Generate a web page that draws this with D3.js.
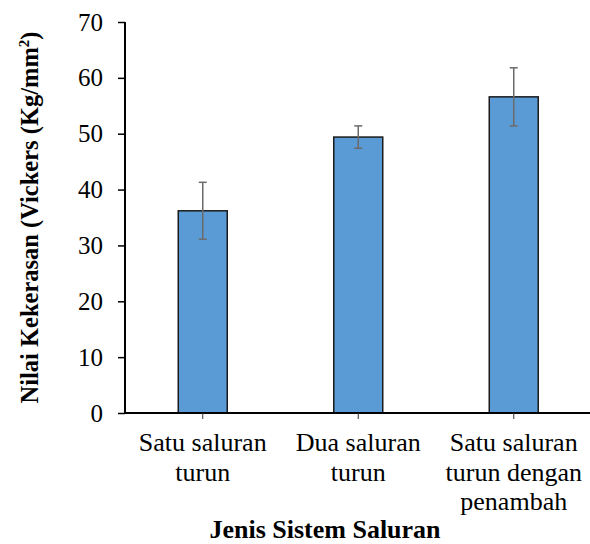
<html>
<head>
<script src="https://cdn.jsdelivr.net/npm/d3@7"></script>
<style>
  body { margin: 0; background: #fff; }
  svg text { font-family: "Times New Roman", "Liberation Serif", "DejaVu Serif", serif !important; fill: #000; }
</style>
</head>
<body>
<svg width="590" height="544"></svg>
<script>
// chart data
const categories = ["Satu saluran turun", "Dua saluran turun", "Satu saluran turun dengan penambah"];
const labelLines = [["Satu saluran", "turun"], ["Dua saluran", "turun"], ["Satu saluran", "turun dengan", "penambah"]];
const values = [36.2, 49.4, 56.6];
const errors = [5.1, 2.0, 5.2];
const yTicks = [0, 10, 20, 30, 40, 50, 60, 70];

const svg = d3.select("svg");
const plotLeft = 125, plotRight = 591.5, plotTop = 22, plotBottom = 413;

const x = d3.scaleBand().domain(categories).range([plotLeft, plotRight])
  .paddingInner(0.685).paddingOuter(0.3425);
const y = d3.scaleLinear().domain([0, 70]).range([plotBottom, plotTop]);

// bars
svg.selectAll("rect.bar").data(categories).enter().append("rect")
  .attr("x", d => x(d))
  .attr("y", (d, i) => y(values[i]))
  .attr("width", x.bandwidth())
  .attr("height", (d, i) => y(0) - y(values[i]))
  .style("fill", "#5b9bd5")
  .style("stroke", "#1a1a1a")
  .style("stroke-width", 1.5);

// error bars
const eb = svg.append("g").style("stroke", "#6b6b6b").style("stroke-width", 1.5);
categories.forEach((c, i) => {
  const cx = x(c) + x.bandwidth() / 2;
  const hi = y(values[i] + errors[i]), lo = y(values[i] - errors[i]);
  eb.append("line").attr("x1", cx).attr("x2", cx).attr("y1", hi).attr("y2", lo);
  eb.append("line").attr("x1", cx - 4).attr("x2", cx + 4).attr("y1", hi).attr("y2", hi);
  eb.append("line").attr("x1", cx - 4).attr("x2", cx + 4).attr("y1", lo).attr("y2", lo);
});

// y axis
const yAxis = svg.append("g").attr("transform", "translate(" + plotLeft + ",0)")
  .call(d3.axisLeft(y).tickValues(yTicks).tickSize(7).tickPadding(15));
yAxis.attr("font-family", null);
yAxis.select(".domain").attr("d", "M0," + plotTop + "V" + plotBottom).style("stroke", "#000").style("stroke-width", 2);
yAxis.selectAll(".tick line").style("stroke", "#000").style("stroke-width", 1.5);
yAxis.selectAll(".tick text").style("font-size", "25px");

// x axis
const xAxis = svg.append("g").attr("transform", "translate(0," + plotBottom + ")");
xAxis.append("line").attr("x1", plotLeft - 1).attr("x2", 590).attr("y1", 0).attr("y2", 0)
  .style("stroke", "#000").style("stroke-width", 2);
xAxis.selectAll("line.xt").data(categories).enter().append("line")
  .attr("x1", d => x(d) + x.bandwidth() / 2).attr("x2", d => x(d) + x.bandwidth() / 2)
  .attr("y1", 0).attr("y2", 6).style("stroke", "#333").style("stroke-width", 1);

const xl = svg.append("g");
categories.forEach((c, i) => {
  const t = xl.append("text").attr("x", x(c) + x.bandwidth() / 2).attr("y", 451)
    .attr("text-anchor", "middle").style("font-size", "26px");
  labelLines[i].forEach((ln, j) => {
    t.append("tspan").attr("x", x(c) + x.bandwidth() / 2).attr("dy", j === 0 ? 0 : 29.5).text(ln);
  });
});

// axis titles
svg.append("text").attr("x", 325).attr("y", 538).attr("text-anchor", "middle")
  .style("font-size", "26px").style("font-weight", "bold").text("Jenis Sistem Saluran");

const yt = svg.append("text").attr("transform", "translate(38," + ((plotTop + plotBottom) / 2) + ") rotate(-90)")
  .attr("text-anchor", "middle").style("font-size", "24.5px").style("font-weight", "bold");
yt.append("tspan").text("Nilai Kekerasan (Vickers (Kg/mm");
yt.append("tspan").attr("dy", -9).style("font-size", "15px").text("2");
yt.append("tspan").attr("dy", 9).text(")");
</script>
</body>
</html>
